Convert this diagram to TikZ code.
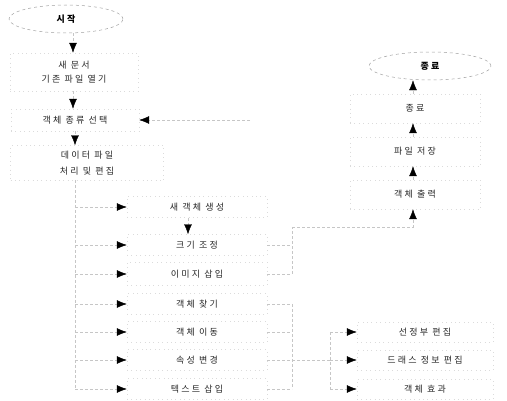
\documentclass[tikz,border=0pt]{standalone}
\usepackage{fontspec}
\setmainfont[LetterSpace=25]{Noto Sans CJK KR}
\usetikzlibrary{shapes.geometric,arrows.meta}
\begin{document}
\begin{tikzpicture}[x=1pt,y=-1pt,
  font=\fontsize{9}{14}\selectfont,
  stepbox/.style={draw=gray!28, loosely dotted, line width=0.4pt, align=center, inner sep=0pt, text=black!85},
  oval/.style={ellipse, draw=gray!75, dashed, line width=0.5pt, inner sep=0pt, minimum width=114pt, minimum height=28pt},
  conn/.style={draw=gray!45, densely dashed, line width=0.45pt},
  arr/.style={conn, -{Latex[length=10pt,width=8pt,color=black]}}
]
\useasboundingbox (0,0) rectangle (507,401);

% left column
\node[oval] (start) at (66,19) {\bfseries 시작};
\node[stepbox, minimum width=128pt, minimum height=38pt] (open) at (74,72) {새 문서\\기존 파일 열기};
\node[stepbox, minimum width=128pt, minimum height=22pt] (kind) at (75,120) {객체 종류 선택};
\node[stepbox, minimum width=153pt, minimum height=35pt, font=\fontsize{9}{16}\selectfont] (data) at (87,163) {데이터 파일\\처리 및 편집};

\draw[arr] (start.south -| 73,0) -- (open.north -| 73,0);
\draw[arr] (open.south -| 73,0) -- (kind.north -| 73,0);
\draw[arr] (kind.south -| 75,0) -- (data.north -| 75,0);

\coordinate (loop) at (250,120);
\draw[arr] (loop) -- (kind.east);

% middle column
\node[stepbox, minimum width=140pt, minimum height=21pt] (new)  at (197,207) {새 객체 생성};
\node[stepbox, minimum width=140pt, minimum height=21pt] (size) at (197,245) {크기 조정};
\node[stepbox, minimum width=140pt, minimum height=23pt] (img)  at (197,274) {이미지 삽입};
\node[stepbox, minimum width=140pt, minimum height=21pt] (find) at (197,304) {객체 찾기};
\node[stepbox, minimum width=140pt, minimum height=21pt] (move) at (197,332) {객체 이동};
\node[stepbox, minimum width=140pt, minimum height=21pt] (prop) at (197,360) {속성 변경};
\node[stepbox, minimum width=140pt, minimum height=21pt] (text) at (197,389) {텍스트 삽입};

\coordinate (lt) at (75,180);
\coordinate (lb) at (75,389);
\draw[conn] (lt) -- (lb);
\foreach \n in {new,size,img,find,move,prop,text}
  \draw[arr] (lt |- \n.west) -- (\n.west);

\draw[arr] (new.south -| 188,0) -- (size.north -| 188,0);

% right top column
\node[oval, minimum width=122pt] (end) at (430,66) {\bfseries 종료};
\node[stepbox, minimum width=130pt, minimum height=29pt] (quit) at (415,108.5) {종료};
\node[stepbox, minimum width=130pt, minimum height=29pt] (save) at (415,151.5) {파일 저장};
\node[stepbox, minimum width=130pt, minimum height=29pt] (out)  at (415,194.5) {객체 출력};

\draw[arr] (quit.north -| 413,0) -- (end.south -| 413,0);
\draw[arr] (save.north -| 413,0) -- (quit.south -| 413,0);
\draw[arr] (out.north -| 413,0) -- (save.south -| 413,0);

\coordinate (rt) at (292,227);
\coordinate (rb) at (292,274);
\draw[conn] (size.east) -- (rt |- size.east);
\draw[conn] (img.east) -- (rb);
\draw[conn] (rb) -- (rt);
\draw[arr] (rt) -| (out.south -| 413,0);

% right bottom column
\node[stepbox, minimum width=136pt, minimum height=20pt] (sel)   at (425,332) {선정부 편집};
\node[stepbox, minimum width=136pt, minimum height=20pt] (dress) at (425,360) {드래스 정보 편집};
\node[stepbox, minimum width=136pt, minimum height=20pt] (eff)   at (425,389) {객체 효과};

\coordinate (bt) at (292,304);
\coordinate (bb) at (292,389);
\draw[conn] (bt) -- (bb);
\foreach \n in {find,move,prop,text}
  \draw[conn] (\n.east) -- (bt |- \n.east);
\coordinate (st) at (330,332);
\coordinate (sb) at (330,389);
\draw[conn] (bt |- prop.east) -- (st |- prop.east);
\draw[conn] (st) -- (sb);
\foreach \n in {sel,dress,eff}
  \draw[arr] (st |- \n.west) -- (\n.west);
\end{tikzpicture}
\end{document}
